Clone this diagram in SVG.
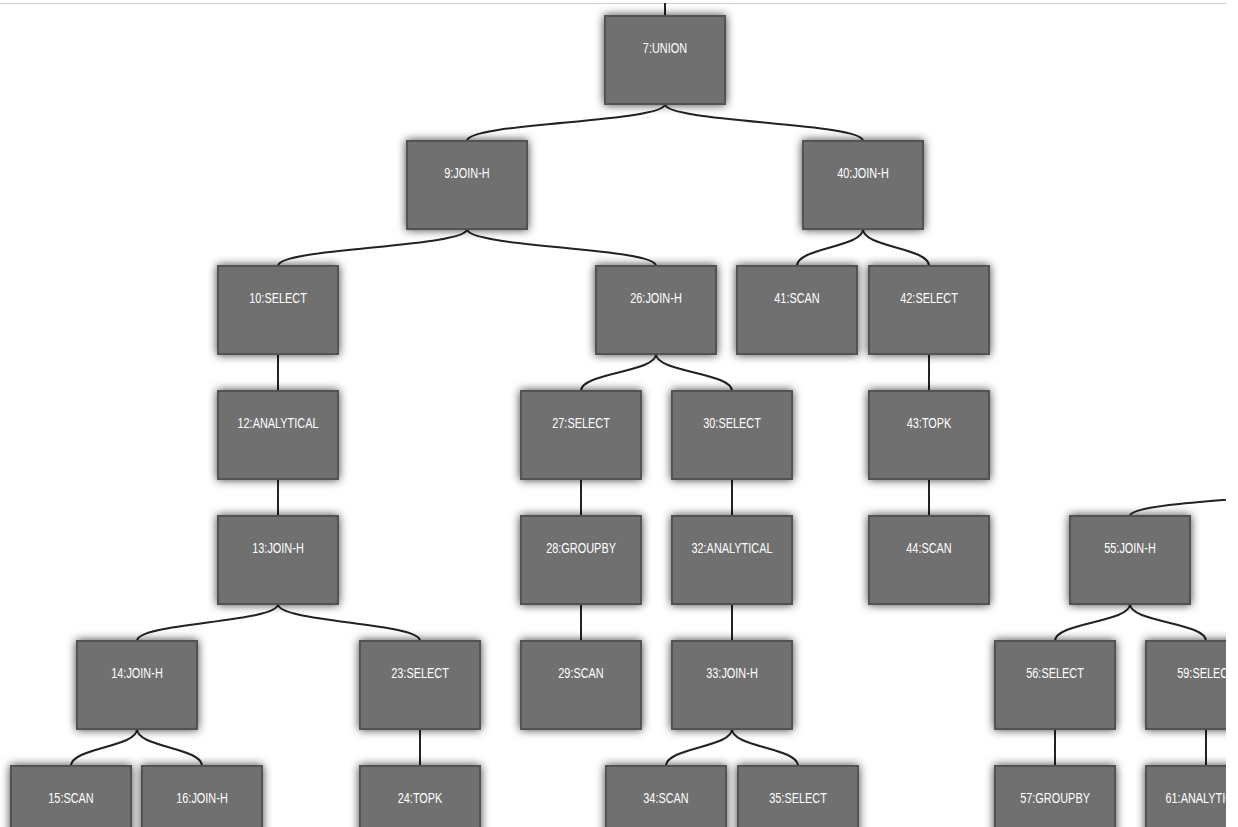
<svg xmlns="http://www.w3.org/2000/svg" width="1238" height="827" viewBox="0 0 1238 827">
<defs>
<filter id="sh" x="-30%" y="-30%" width="160%" height="160%">
<feDropShadow dx="0" dy="0" stdDeviation="5" flood-color="#000" flood-opacity="0.75"/>
</filter>
<clipPath id="clip"><rect x="0" y="0" width="1226" height="827"/></clipPath>
</defs>
<style>
.n rect{fill:#707070;stroke:#525252;stroke-width:2;filter:url(#sh)}
.n text{fill:#fff;font-family:"Liberation Sans",Arial,sans-serif;font-size:14px;text-anchor:middle;transform-box:fill-box;transform-origin:center;transform:scaleX(0.78)}
.e path{fill:none;stroke:#222;stroke-width:2}
</style>
<rect width="1238" height="827" fill="#fff"/>
<line x1="0" y1="3.5" x2="1226" y2="3.5" stroke="#cfcfcf" stroke-width="1"/>
<g clip-path="url(#clip)">
<g id="connectors" class="e">
<path d="M665 3V16"/>
<path d="M665 104C665 122.5 467 122.5 467 141"/>
<path d="M665 104C665 122.5 863 122.5 863 141"/>
<path d="M467 229C467 247.5 278 247.5 278 266"/>
<path d="M467 229C467 247.5 656 247.5 656 266"/>
<path d="M863 229C863 247.5 797 247.5 797 266"/>
<path d="M863 229C863 247.5 929 247.5 929 266"/>
<path d="M278 354V391"/>
<path d="M656 354C656 372.5 581 372.5 581 391"/>
<path d="M656 354C656 372.5 732 372.5 732 391"/>
<path d="M929 354V391"/>
<path d="M278 479V516"/>
<path d="M581 479V516"/>
<path d="M732 479V516"/>
<path d="M929 479V516"/>
<path d="M1380 479C1380 497.5 1130 497.5 1130 516"/>
<path d="M278 604C278 622.5 137 622.5 137 641"/>
<path d="M278 604C278 622.5 420 622.5 420 641"/>
<path d="M581 604V641"/>
<path d="M732 604V641"/>
<path d="M1130 604C1130 622.5 1055 622.5 1055 641"/>
<path d="M1130 604C1130 622.5 1206 622.5 1206 641"/>
<path d="M137 729C137 747.5 71 747.5 71 766"/>
<path d="M137 729C137 747.5 202 747.5 202 766"/>
<path d="M420 729V766"/>
<path d="M732 729C732 747.5 666 747.5 666 766"/>
<path d="M732 729C732 747.5 798 747.5 798 766"/>
<path d="M1055 729V766"/>
<path d="M1206 729V766"/>
</g>
<g id="n7" class="n"><rect x="605" y="16" width="120" height="88"/><text x="665" y="53">7:UNION</text></g>
<g id="n9" class="n"><rect x="407" y="141" width="120" height="88"/><text x="467" y="178">9:JOIN-H</text></g>
<g id="n40" class="n"><rect x="803" y="141" width="120" height="88"/><text x="863" y="178">40:JOIN-H</text></g>
<g id="n10" class="n"><rect x="218" y="266" width="120" height="88"/><text x="278" y="303">10:SELECT</text></g>
<g id="n26" class="n"><rect x="596" y="266" width="120" height="88"/><text x="656" y="303">26:JOIN-H</text></g>
<g id="n41" class="n"><rect x="737" y="266" width="120" height="88"/><text x="797" y="303">41:SCAN</text></g>
<g id="n42" class="n"><rect x="869" y="266" width="120" height="88"/><text x="929" y="303">42:SELECT</text></g>
<g id="n12" class="n"><rect x="218" y="391" width="120" height="88"/><text x="278" y="428">12:ANALYTICAL</text></g>
<g id="n27" class="n"><rect x="521" y="391" width="120" height="88"/><text x="581" y="428">27:SELECT</text></g>
<g id="n30" class="n"><rect x="672" y="391" width="120" height="88"/><text x="732" y="428">30:SELECT</text></g>
<g id="n43" class="n"><rect x="869" y="391" width="120" height="88"/><text x="929" y="428">43:TOPK</text></g>
<g id="n13" class="n"><rect x="218" y="516" width="120" height="88"/><text x="278" y="553">13:JOIN-H</text></g>
<g id="n28" class="n"><rect x="521" y="516" width="120" height="88"/><text x="581" y="553">28:GROUPBY</text></g>
<g id="n32" class="n"><rect x="672" y="516" width="120" height="88"/><text x="732" y="553">32:ANALYTICAL</text></g>
<g id="n44" class="n"><rect x="869" y="516" width="120" height="88"/><text x="929" y="553">44:SCAN</text></g>
<g id="n55" class="n"><rect x="1070" y="516" width="120" height="88"/><text x="1130" y="553">55:JOIN-H</text></g>
<g id="n14" class="n"><rect x="77" y="641" width="120" height="88"/><text x="137" y="678">14:JOIN-H</text></g>
<g id="n23" class="n"><rect x="360" y="641" width="120" height="88"/><text x="420" y="678">23:SELECT</text></g>
<g id="n29" class="n"><rect x="521" y="641" width="120" height="88"/><text x="581" y="678">29:SCAN</text></g>
<g id="n33" class="n"><rect x="672" y="641" width="120" height="88"/><text x="732" y="678">33:JOIN-H</text></g>
<g id="n56" class="n"><rect x="995" y="641" width="120" height="88"/><text x="1055" y="678">56:SELECT</text></g>
<g id="n59" class="n"><rect x="1146" y="641" width="120" height="88"/><text x="1206" y="678">59:SELECT</text></g>
<g id="n15" class="n"><rect x="11" y="766" width="120" height="88"/><text x="71" y="803">15:SCAN</text></g>
<g id="n16" class="n"><rect x="142" y="766" width="120" height="88"/><text x="202" y="803">16:JOIN-H</text></g>
<g id="n24" class="n"><rect x="360" y="766" width="120" height="88"/><text x="420" y="803">24:TOPK</text></g>
<g id="n34" class="n"><rect x="606" y="766" width="120" height="88"/><text x="666" y="803">34:SCAN</text></g>
<g id="n35" class="n"><rect x="738" y="766" width="120" height="88"/><text x="798" y="803">35:SELECT</text></g>
<g id="n57" class="n"><rect x="995" y="766" width="120" height="88"/><text x="1055" y="803">57:GROUPBY</text></g>
<g id="n61" class="n"><rect x="1146" y="766" width="120" height="88"/><text x="1206" y="803">61:ANALYTICAL</text></g>
</g>
</svg>
